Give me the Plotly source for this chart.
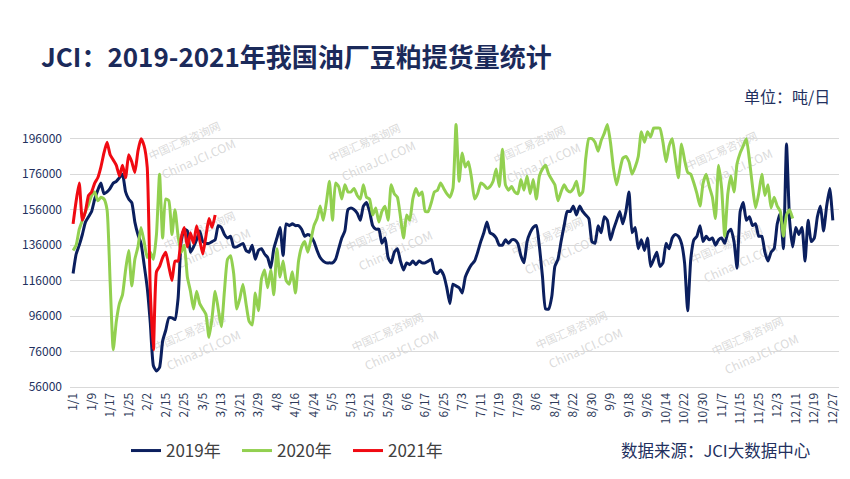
import plotly.graph_objects as go

# ---------------- data (thousand tonnes / day, one value per trading day) ----------------
tick_labels = ["1/1", "1/9", "1/17", "1/25", "2/2", "2/15", "2/25", "3/5", "3/13", "3/21",
               "3/29", "4/8", "4/16", "4/24", "5/5", "5/13", "5/21", "5/29", "6/6", "6/17",
               "6/25", "7/3", "7/11", "7/19", "7/29", "8/6", "8/14", "8/22", "8/30", "9/9",
               "9/18", "9/26", "10/14", "10/22", "10/30", "11/7", "11/15", "11/25", "12/3",
               "12/11", "12/19", "12/27"]

y_ticks = [56000, 76000, 96000, 116000, 136000, 156000, 176000, 196000]

tons_2019 = [
    120, 131, 136, 142, 149, 152, 155, 162, 167, 171, 165, 166, 168, 171, 172, 174, 176, 166, 162, 160,
    149, 142, 137, 125, 112, 92, 68, 65, 67, 82, 88, 95, 95, 94, 106, 138, 145, 144, 132, 135,
    139, 144, 138, 137, 137, 138, 139, 147, 146, 142, 140, 141, 135, 135, 136, 137, 133, 132, 136, 128,
    133, 134, 131, 129, 123, 134, 140, 146, 130, 148, 147, 148, 147, 147, 145, 141, 142, 141, 138, 133,
    129, 127, 126, 126, 126, 128, 134, 140, 144, 156, 157, 156, 154, 150, 158, 160, 155, 147, 145, 145,
    137, 140, 129, 126, 132, 134, 127, 122, 126, 125, 127, 125, 127, 126, 126, 127, 128, 121, 120, 122,
    119, 112, 103, 114, 113, 112, 109, 118, 122, 125, 127, 132, 138, 143, 149, 143, 142, 140, 136, 136,
    139, 137, 139, 139, 137, 130, 126, 138, 143, 146, 147, 135, 118, 100, 100, 107, 124, 128, 138, 147,
    155, 155, 158, 153, 158, 155, 153, 151, 138, 137, 147, 143, 152, 150, 139, 145, 150, 155, 148, 155,
    166, 143, 146, 134, 139, 133, 140, 124, 128, 132, 124, 126, 137, 134, 140, 142, 141, 137, 126, 99,
    128, 139, 141, 147, 138, 141, 139, 140, 136, 139, 140, 137, 143, 145, 138, 123, 155, 160, 150, 152,
    147, 148, 141, 141, 132, 127, 132, 134, 148, 154, 134, 193, 150, 135, 146, 142, 146, 127, 150, 138,
    140, 152, 158, 144, 158, 168, 150,
]

tons_2020 = [
    133, 136, 145, 150, 155, 159, 164, 166, 161, 163, 162, 156, 115, 77, 93, 103, 108, 122, 133, 113,
    128, 135, 146, 138, 129, 132, 128, 142, 176, 140, 162, 161, 142, 156, 141, 132, 136, 118, 110, 100,
    110, 103, 100, 97, 84, 95, 110, 100, 90, 110, 128, 130, 120, 100, 106, 114, 103, 93, 91, 109,
    99, 117, 122, 112, 122, 108, 134, 118, 127, 116, 114, 121, 109, 127, 135, 138, 132, 139, 147, 151,
    158, 150, 160, 172, 150, 171, 169, 162, 170, 166, 166, 168, 164, 162, 170, 163, 162, 153, 157, 149,
    155, 158, 150, 170, 165, 163, 152, 140, 153, 150, 162, 168, 164, 166, 155, 155, 160, 166, 167, 171,
    168, 165, 163, 168, 204, 172, 188, 180, 183, 174, 162, 165, 171, 170, 168, 169, 172, 179, 169, 190,
    170, 167, 169, 166, 165, 173, 167, 175, 165, 173, 162, 175, 179, 181, 176, 173, 170, 161, 166, 170,
    167, 166, 168, 172, 164, 166, 185, 196, 196, 194, 189, 195, 199, 204, 194, 179, 170, 178, 185, 186,
    183, 176, 180, 186, 200, 194, 200, 197, 202, 202, 202, 194, 183, 192, 196, 185, 174, 193, 184, 177,
    176, 171, 165, 158, 171, 176, 169, 163, 151, 181, 168, 141, 165, 175, 166, 182, 188, 192, 196, 184,
    169, 157, 165, 176, 164, 170, 157, 163, 158, 155, 141, 153, 156, 151,
]

tons_2021 = [
    148, 161, 171, 150, 155, 164, 166, 171, 174, 180, 188, 194, 187, 184, 181, 175, 181, 174, 187, 183,
    177, 189, 196, 192, 180, 110, 77, 121, 124, 129, 132, 124, 116, 127, 127, 140, 146, 135, 143, 137,
    147, 139, 131, 141, 151, 146, 153,
]

series_names = ["2019年", "2020年", "2021年"]
series_values = [tons_2019, tons_2020, tons_2021]
series_colors = ["#0b1f5e", "#92d050", "#f00a12"]

# ---------------- figure ----------------
W, H = 850, 479
L, R, T, B = 70, 11, 121, 91
PW, PH = W - L - R, H - T - B


def px_x(p):
    return (p - L) / PW


def px_y(p):
    return (H - B - p) / PH


fig = go.Figure()
for name, vals, color in zip(series_names, series_values, series_colors):
    fig.add_trace(go.Scatter(
        x=list(range(len(vals))),
        y=[v * 1000 for v in vals],
        mode="lines",
        name=name,
        line=dict(color=color, width=3, shape="spline", smoothing=0.5),
        hoverinfo="skip",
    ))

navy = "#1f2d5c"
font_main = "Noto Sans CJK SC, Noto Sans, sans-serif"

# faint watermark (below traces)
wm_centers = [(185, 142), (365, 144), (530, 146), (722, 152),
              (200, 232), (382, 234), (548, 238), (727, 246),
              (190, 334), (388, 334), (572, 332), (748, 338)]
shapes = []
for cx, cy in wm_centers:
    for dx, dy, txt, sz in [(0, 0, "中国汇易咨询网", 11), (14, 18, "ChinaJCI.COM", 12)]:
        x0, y0 = cx + dx, cy + dy
        shapes.append(dict(
            type="rect", xref="paper", yref="paper", layer="below",
            x0=px_x(x0 - 40), x1=px_x(x0 + 40), y0=px_y(y0 + 8), y1=px_y(y0 - 8),
            line=dict(width=0), fillcolor="rgba(0,0,0,0)",
            label=dict(text=txt, textangle=-24,
                       font=dict(size=sz, color="rgba(180,180,180,0.5)", family=font_main)),
        ))

fig.update_layout(
    width=W, height=H,
    margin=dict(l=L, r=R, t=T, b=B, pad=0),
    paper_bgcolor="white", plot_bgcolor="white",
    font=dict(family=font_main, color=navy),
    title=dict(text="<b>JCI：2019-2021年我国油厂豆粕提货量统计</b>",
               x=41 / W, xanchor="left", y=1 - 58 / H, yanchor="middle",
               xref="container", yref="container",
               font=dict(size=26, color="#1b2a5a", family=font_main)),
    xaxis=dict(range=[-1, 248], tickmode="array",
               tickvals=[6 * i for i in range(len(tick_labels))], ticktext=tick_labels,
               tickangle=-90, tickfont=dict(size=12, color="#2e3a5a"),
               showgrid=False, zeroline=False, showline=True, linecolor="#d9d9d9", linewidth=1,
               ticks="", fixedrange=True),
    yaxis=dict(range=[56000, 206000], tickmode="array", tickvals=y_ticks,
               ticktext=[str(v) for v in y_ticks],
               tickfont=dict(size=12, color="#22305e"),
               showgrid=True, gridcolor="#d9d9d9", gridwidth=1,
               zeroline=False, showline=False, ticks="", ticklabelstandoff=7, fixedrange=True),
    showlegend=True,
    legend=dict(orientation="h", x=px_x(126), xanchor="left", y=px_y(451), yanchor="middle",
                font=dict(size=17, color="#404040", family=font_main),
                entrywidth=66, entrywidthmode="pixels", itemwidth=30,
                bgcolor="rgba(0,0,0,0)"),
    shapes=shapes,
    annotations=[
        dict(text="单位：吨/日", xref="paper", yref="paper", x=px_x(832), y=px_y(96),
             xanchor="right", yanchor="middle", showarrow=False,
             font=dict(size=16, color="#22305e", family=font_main)),
        dict(text="数据来源：JCI大数据中心", xref="paper", yref="paper", x=px_x(812), y=px_y(451),
             xanchor="right", yanchor="middle", showarrow=False,
             font=dict(size=16.5, color="#22305e", family=font_main)),
    ],
)

fig.write_html("out.html")
